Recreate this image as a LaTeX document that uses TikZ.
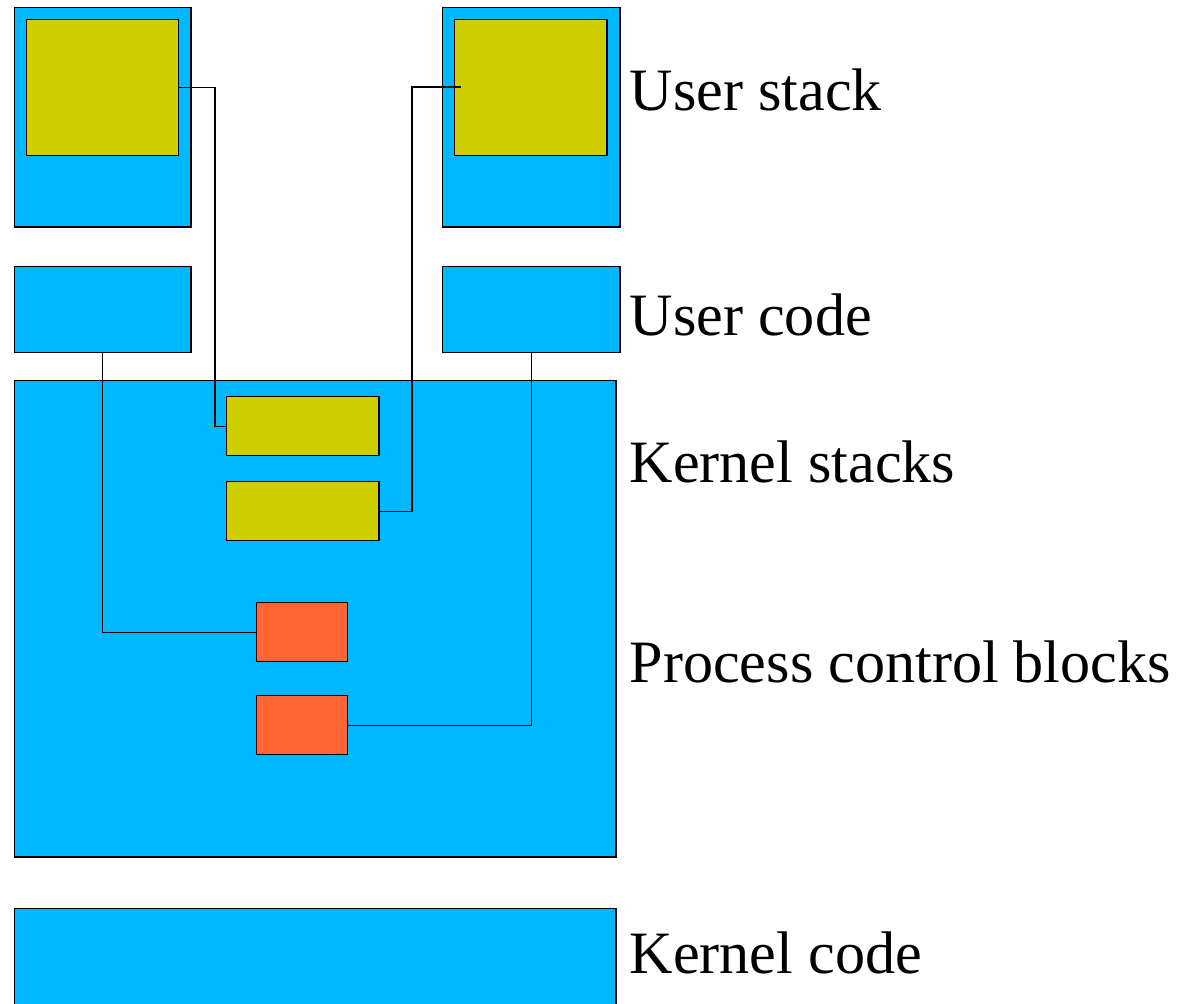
\documentclass[tikz,border=0pt]{standalone}
\usepackage{fontspec}
\setmainfont{Liberation Serif}
\usepackage{tikz}

\definecolor{memblue}{RGB}{0,184,255}
\definecolor{stackyellow}{RGB}{207,207,0}
\definecolor{pcborange}{RGB}{255,102,51}

\tikzset{
  region/.style={draw, fill=memblue, inner sep=0pt, anchor=north west},
  stk/.style={draw, fill=stackyellow, inner sep=0pt, anchor=north west},
  pcb/.style={draw, fill=pcborange, inner sep=0pt, anchor=north west},
  lbl/.style={inner sep=0pt, anchor=base west, font=\fontsize{17.1}{20}\selectfont},
  link/.style={line width=0.4pt}
}

\begin{document}
\begin{tikzpicture}[x=0.01cm, y=-0.01cm, line width=0.4pt]
\useasboundingbox (0,0) rectangle (1179,1003);

% user stacks
\node[region, minimum width=1.76cm, minimum height=2.19cm] (usA) at (14,7) {};
\node[stk, minimum width=1.52cm, minimum height=1.36cm] (ysA) at (26,19) {};
\node[region, minimum width=1.77cm, minimum height=2.19cm] (usB) at (442,7) {};
\node[stk, minimum width=1.52cm, minimum height=1.36cm] (ysB) at (454,19) {};

% user code
\node[region, minimum width=1.76cm, minimum height=0.86cm] (ucA) at (14,266) {};
\node[region, minimum width=1.77cm, minimum height=0.86cm] (ucB) at (442,266) {};

% kernel memory
\node[region, minimum width=6.01cm, minimum height=4.76cm] (kmem) at (14,380) {};
\node[stk, minimum width=1.52cm, minimum height=0.59cm] (ksA) at (226,396) {};
\node[stk, minimum width=1.52cm, minimum height=0.59cm] (ksB) at (226,481) {};
\node[pcb, minimum width=0.91cm, minimum height=0.59cm] (pcbA) at (256,602) {};
\node[pcb, minimum width=0.91cm, minimum height=0.59cm] (pcbB) at (256,695) {};

% kernel code
\node[region, minimum width=6.01cm, minimum height=1.20cm] (kcode) at (14,908) {};

% links
\coordinate (bendA) at (215,0);
\coordinate (bendB) at (412,0);
\coordinate (ysBin) at (461,87);
\draw[link] (ysA.east) -| (bendA |- ksA.west) -- (ksA.west);
\draw[link] (ysBin) -| (bendB |- ksB.east) -- (ksB.east);
\draw[link] (ucA.south) |- (pcbA.west);
\draw[link] (ucB.south) |- (pcbB.east);

% labels
\node[lbl] (tUS) at (629,110) {User stack};
\node[lbl] (tUC) at (629,335) {User code};
\node[lbl] (tKS) at (629,482) {Kernel stacks};
\node[lbl] (tPCB) at (629,682) {Process control blocks};
\node[lbl] (tKC) at (629,973) {Kernel code};

\end{tikzpicture}
\end{document}
